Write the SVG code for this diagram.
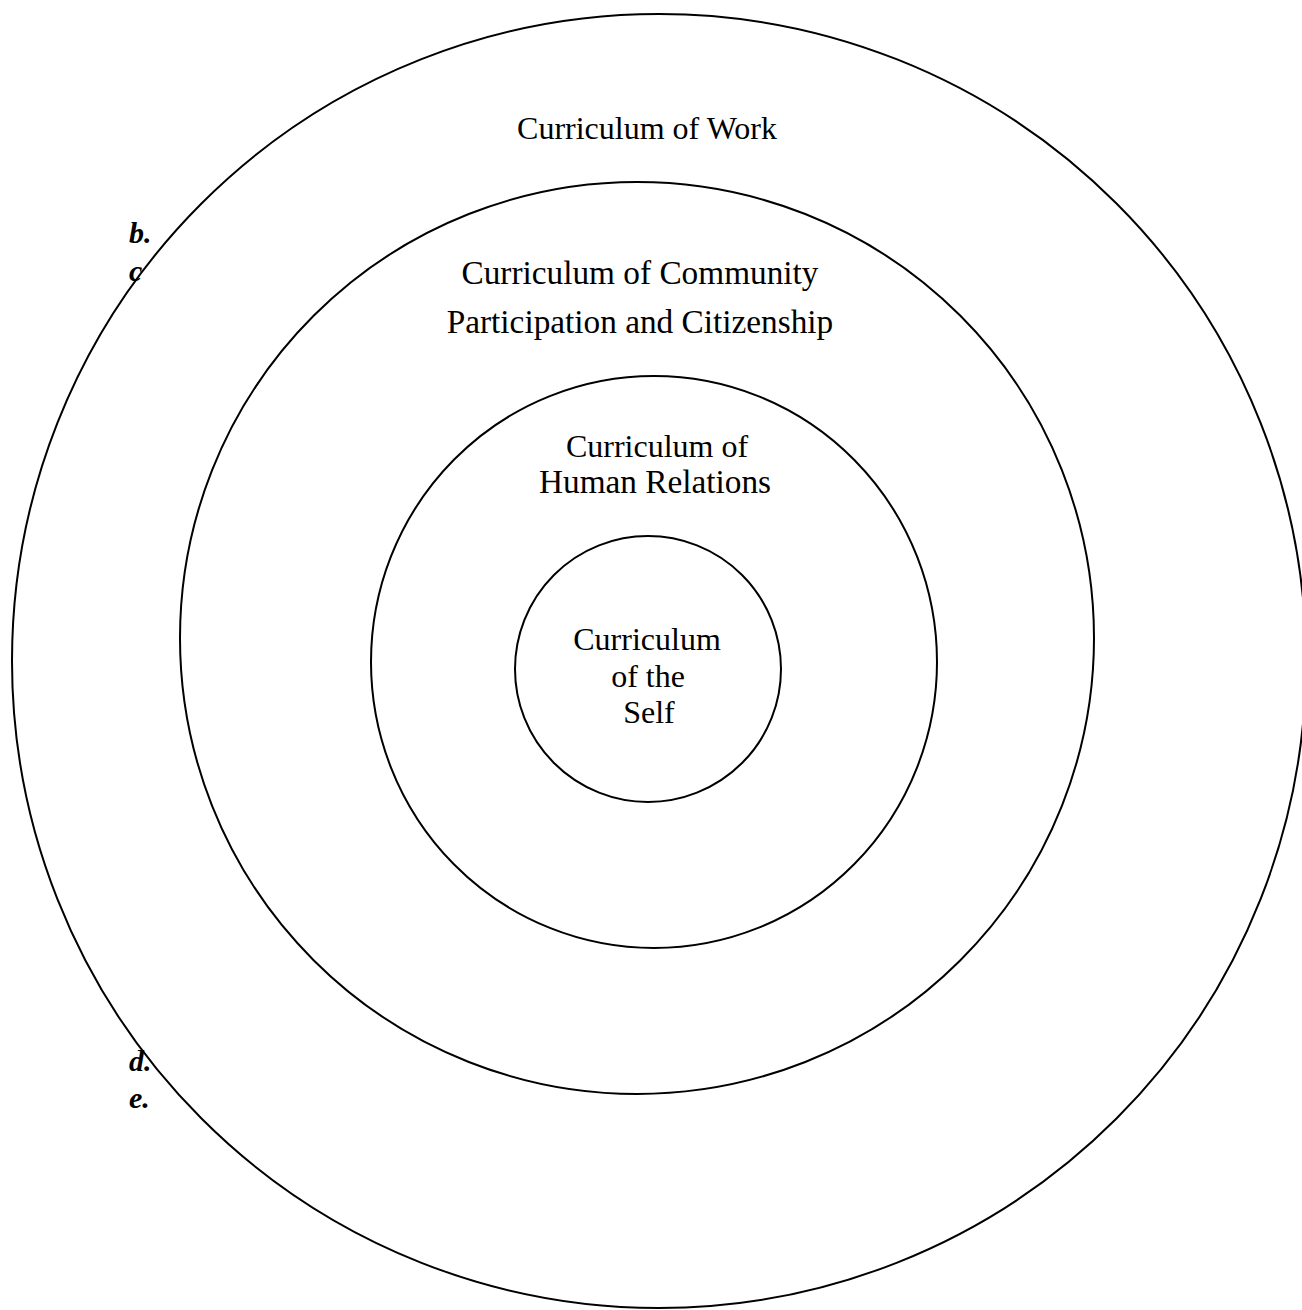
<svg xmlns="http://www.w3.org/2000/svg" width="1302" height="1310" viewBox="0 0 1302 1310">
<style>
.ring{fill:none;stroke:#000;stroke-width:2}
.lbl{font-family:"Liberation Serif","Times New Roman",serif;font-size:32px;fill:#000;text-anchor:middle}
.big{font-size:33.3px}
.mark{font-family:"Liberation Serif","Times New Roman",serif;font-size:30px;font-weight:bold;font-style:italic;fill:#000}
</style>
<rect width="1302" height="1310" fill="#fff"/>
<g id="marks">
<text class="mark" x="129" y="243">b.</text>
<text class="mark" x="129" y="281">c</text>
<text class="mark" x="129" y="1071">d.</text>
<text class="mark" x="129" y="1108">e.</text>
</g>
<g id="work">
<ellipse class="ring" cx="659" cy="661" rx="647" ry="647"/>
<text class="lbl" x="647" y="139">Curriculum of Work</text>
</g>
<g id="community">
<ellipse class="ring" cx="637" cy="638" rx="457" ry="456"/>
<text class="lbl big" x="640" y="284">Curriculum of Community</text>
<text class="lbl big" x="640" y="333">Participation and Citizenship</text>
</g>
<g id="human">
<ellipse class="ring" cx="654" cy="662" rx="283" ry="286"/>
<text class="lbl" x="657" y="457">Curriculum of</text>
<text class="lbl big" x="655" y="493">Human Relations</text>
</g>
<g id="self">
<ellipse class="ring" cx="648" cy="669" rx="133" ry="133"/>
<text class="lbl" x="647" y="650">Curriculum</text>
<text class="lbl" x="648" y="687">of the</text>
<text class="lbl" x="649" y="723">Self</text>
</g>
<g id="connectors"></g>
</svg>
